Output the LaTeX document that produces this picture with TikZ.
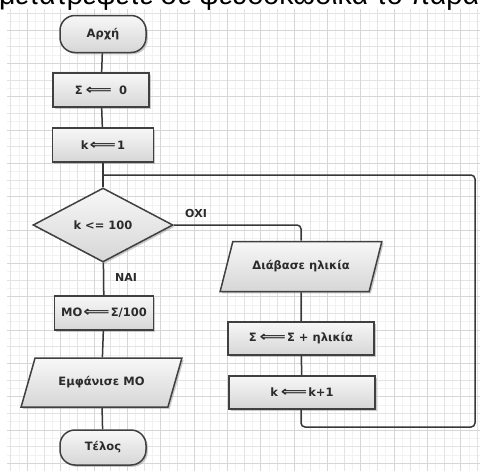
\documentclass[tikz,border=0pt]{standalone}
\usepackage{fontspec}
\usepackage{graphicx}
\setmainfont{Liberation Sans}
\newfontfamily\boxfont{DejaVu Sans}
\usetikzlibrary{shapes.geometric,shadows}

\definecolor{edgegray}{HTML}{404040}
\definecolor{wiregray}{HTML}{383838}
\definecolor{inkgray}{HTML}{2B2B2B}

% hollow assignment arrow used inside the boxes
\newcommand{\assignarrow}{\hspace{1pt}\scalebox{1.6}[1.2]{⟸}\hspace{1pt}}

\begin{document}
\begin{tikzpicture}[x=1pt,y=-1pt,
  base/.style={draw=edgegray, line width=1.5pt, top color=gray!6, bottom color=gray!32,
    text=inkgray, font=\boxfont\bfseries\fontsize{11.5}{13}\selectfont, inner sep=0pt,
    drop shadow={shadow xshift=1.8pt, shadow yshift=-1.8pt, fill=gray!75, opacity=0.55}},
  term/.style={base, rectangle, rounded corners=15pt, minimum width=86pt, minimum height=37pt},
  proc/.style={base, rectangle, minimum height=34pt},
  io/.style={base, trapezium, trapezium left angle=52, trapezium right angle=128,
    trapezium stretches=true, minimum height=50pt, minimum width=162pt},
  cond/.style={base, diamond, minimum width=140pt, minimum height=74pt},
  wire/.style={draw=wiregray, line width=1.5pt, rounded corners=4pt},
  tag/.style={text=inkgray, font=\boxfont\bfseries\fontsize{11}{12}\selectfont, inner sep=0pt},
  gridminor/.style={draw=gray!10, line width=0.5pt},
  gridmid/.style={draw=gray!22, line width=0.6pt},
  gridmajor/.style={draw=gray!32, line width=0.7pt}
]
\useasboundingbox (0,0) rectangle (480,471);
\fill[white] (0,0) rectangle (480,471);

% squared paper
\foreach \i in {0,...,56}{\pgfmathsetmacro{\xx}{10.63+8.3333*\i}\draw[gridminor] (\xx,9) -- (\xx,471);}
\foreach \i in {0,...,54}{\pgfmathsetmacro{\yy}{13.33+8.3333*\i}\draw[gridminor] (7,\yy) -- (480,\yy);}
\foreach \i in {0,...,28}{\pgfmathsetmacro{\xx}{10.63+16.667*\i}\draw[gridmid] (\xx,9) -- (\xx,471);}
\foreach \i in {0,...,27}{\pgfmathsetmacro{\yy}{13.33+16.667*\i}\draw[gridmid] (7,\yy) -- (480,\yy);}
\foreach \i in {0,...,13}{\pgfmathsetmacro{\xx}{27.3+33.333*\i}\draw[gridmajor] (\xx,9) -- (\xx,471);}
\foreach \i in {0,...,13}{\pgfmathsetmacro{\yy}{30+33.333*\i}\draw[gridmajor] (7,\yy) -- (480,\yy);}

% heading line, cut by the upper edge
\begin{scope}
  \clip (0,0) rectangle (480,471);
  \node[anchor=base west, inner sep=0pt, font=\fontsize{28.5}{30}\selectfont] (heading) at (-1,5)
    {μετατρέψετε σε ψευδοκώδικα το παρακάτω};
\end{scope}

% main column
\node[term] (start) at (103,34) {Αρχή};
\node[proc, minimum width=96pt] (zero) at (101,90) {Σ\,\assignarrow\, 0};
\node[proc, minimum width=101pt] (kone) at (103,145) {k\assignarrow 1};
\coordinate (merge) at (103,175);
\node[cond] (test) at (103,225) {k <= 100};
\node[proc, minimum width=99pt] (mean) at (104,313) {ΜΟ\assignarrow Σ/100};
\node[io, minimum width=161pt, minimum height=49pt] (show) at (101.5,382.5) {Εμφάνισε ΜΟ};
\node[term, minimum height=35pt] (stop) at (103,447.5) {Τέλος};

% loop body
\node[io] (read) at (301,266.5) {Διάβασε ηλικία};
\node[proc, minimum width=146pt, minimum height=33pt] (acc) at (301,338.5) {Σ\,\assignarrow Σ + ηλικία};
\node[proc, minimum width=146pt, minimum height=33pt] (incr) at (302,392.5) {k\,\assignarrow k+1};
\coordinate (back) at (475,427);

% connectors
\draw[wire] (start) -- (zero);
\draw[wire] (zero) -- (kone);
\draw[wire] (kone) -- (test);
\draw[wire] (test.east) -| (read.north);
\draw[wire] (read) -- (acc);
\draw[wire] (acc) -- (incr);
\draw[wire] (incr.south -| acc.south) |- (back) |- (merge);
\draw[wire] (test) -- (mean);
\draw[wire] (mean) -- (show);
\draw[wire] (show) -- (stop);

% branch labels
\node[tag] (no) at (196,213) {ΟΧΙ};
\node[tag] (yes) at (126,277) {ΝΑΙ};
\end{tikzpicture}
\end{document}
